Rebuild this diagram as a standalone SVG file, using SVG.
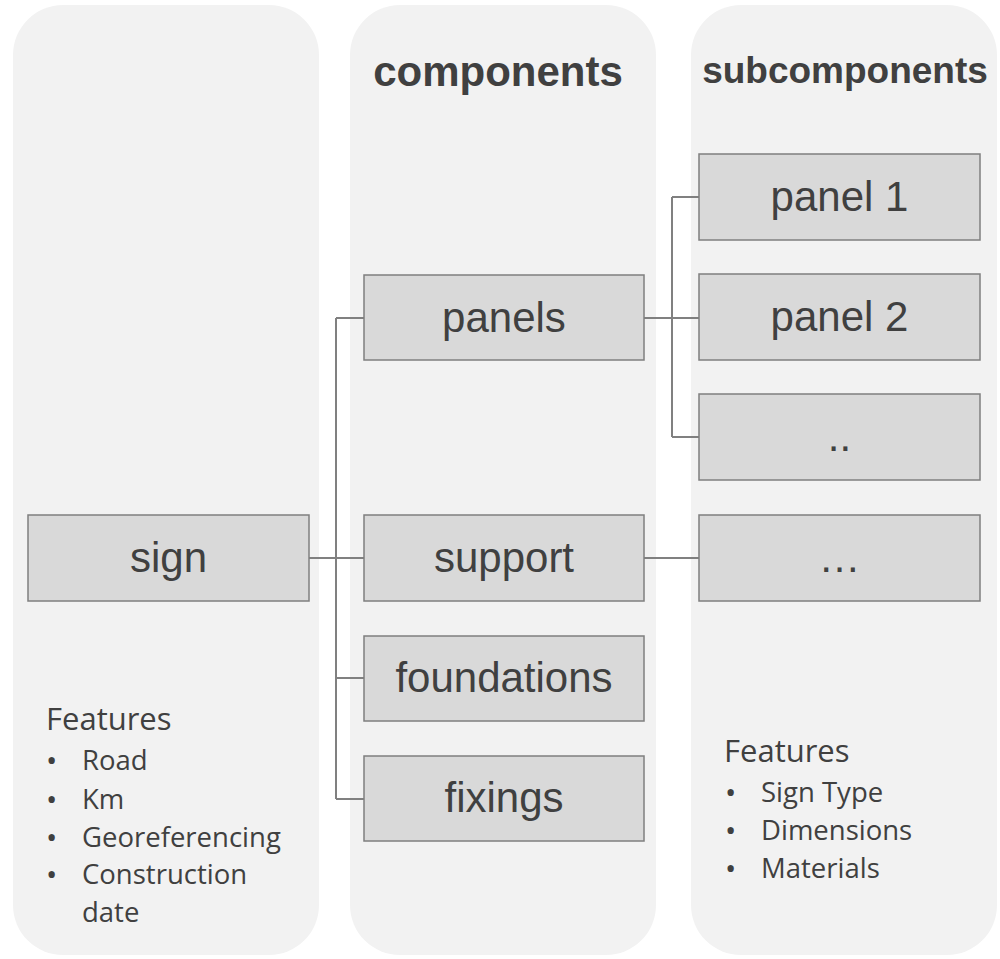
<svg xmlns="http://www.w3.org/2000/svg" width="1000" height="959" viewBox="0 0 1000 959">
<style>
.col{fill:#f2f2f2;stroke:none}
.box{fill:#d9d9d9;stroke:#7f7f7f;stroke-width:1.5}
.lbl{font-family:"Liberation Sans",Arial,sans-serif;font-size:42px;fill:#404040;text-anchor:middle}
.hdr{font-family:"Liberation Sans",Arial,sans-serif;font-weight:bold;fill:#404040;text-anchor:middle}
.feat{font-family:"Open Sans","Noto Sans",sans-serif;font-size:27.5px;fill:#404040}
.ft{font-size:31px}
.bul{font-size:30px}
.con{fill:none;stroke:#808080;stroke-width:2}
</style>
<rect width="1000" height="959" fill="#ffffff"/>
<g id="columns">
<rect class="col" x="13" y="5" width="306" height="950" rx="50" ry="50"/>
<rect class="col" x="350" y="5" width="306" height="950" rx="50" ry="50"/>
<rect class="col" x="691" y="5" width="306" height="950" rx="50" ry="50"/>
</g>
<g id="headers">
<text class="hdr" x="498" y="86" font-size="42">components</text>
<text class="hdr" x="845" y="83" font-size="37">subcomponents</text>
</g>
<g id="connectors">
<path class="con" d="M309 558H364"/>
<path class="con" d="M336 318V799"/>
<path class="con" d="M336 318H364M336 678H364M336 799H364"/>
<path class="con" d="M644 318H699"/>
<path class="con" d="M672 197V437"/>
<path class="con" d="M672 197H699M672 437H699"/>
<path class="con" d="M644 558H699"/>
</g>
<g id="sign">
<rect class="box" x="28" y="515" width="281" height="86"/>
<text class="lbl" x="168.5" y="572">sign</text>
</g>
<g id="panels">
<rect class="box" x="364" y="275" width="280" height="85"/>
<text class="lbl" x="504" y="332">panels</text>
</g>
<g id="support">
<rect class="box" x="364" y="515" width="280" height="86"/>
<text class="lbl" x="504" y="572">support</text>
</g>
<g id="foundations">
<rect class="box" x="364" y="636" width="280" height="85"/>
<text class="lbl" x="504" y="692">foundations</text>
</g>
<g id="fixings">
<rect class="box" x="364" y="756" width="280" height="85"/>
<text class="lbl" x="504" y="812">fixings</text>
</g>
<g id="panel1">
<rect class="box" x="699" y="154" width="281" height="86"/>
<text class="lbl" x="839.5" y="211">panel 1</text>
</g>
<g id="panel2">
<rect class="box" x="699" y="274" width="281" height="86"/>
<text class="lbl" x="839.5" y="331">panel 2</text>
</g>
<g id="panel-more">
<rect class="box" x="699" y="394" width="281" height="86"/>
<text class="lbl" x="839.5" y="451">..</text>
</g>
<g id="support-sub">
<rect class="box" x="699" y="515" width="281" height="86"/>
<text class="lbl" x="839.5" y="572">…</text>
</g>
<g id="sign-features" class="feat">
<text class="ft" x="46" y="730">Features</text>
<text class="bul" x="46" y="771">•</text><text x="82" y="770">Road</text>
<text class="bul" x="46" y="810">•</text><text x="82" y="809">Km</text>
<text class="bul" x="46" y="848">•</text><text x="82" y="847">Georeferencing</text>
<text class="bul" x="46" y="885">•</text><text x="82" y="884">Construction</text>
<text x="82" y="922">date</text>
</g>
<g id="sub-features" class="feat">
<text class="ft" x="724" y="762">Features</text>
<text class="bul" x="725" y="803">•</text><text x="761" y="802">Sign Type</text>
<text class="bul" x="725" y="841">•</text><text x="761" y="840">Dimensions</text>
<text class="bul" x="725" y="879">•</text><text x="761" y="878">Materials</text>
</g>
</svg>
